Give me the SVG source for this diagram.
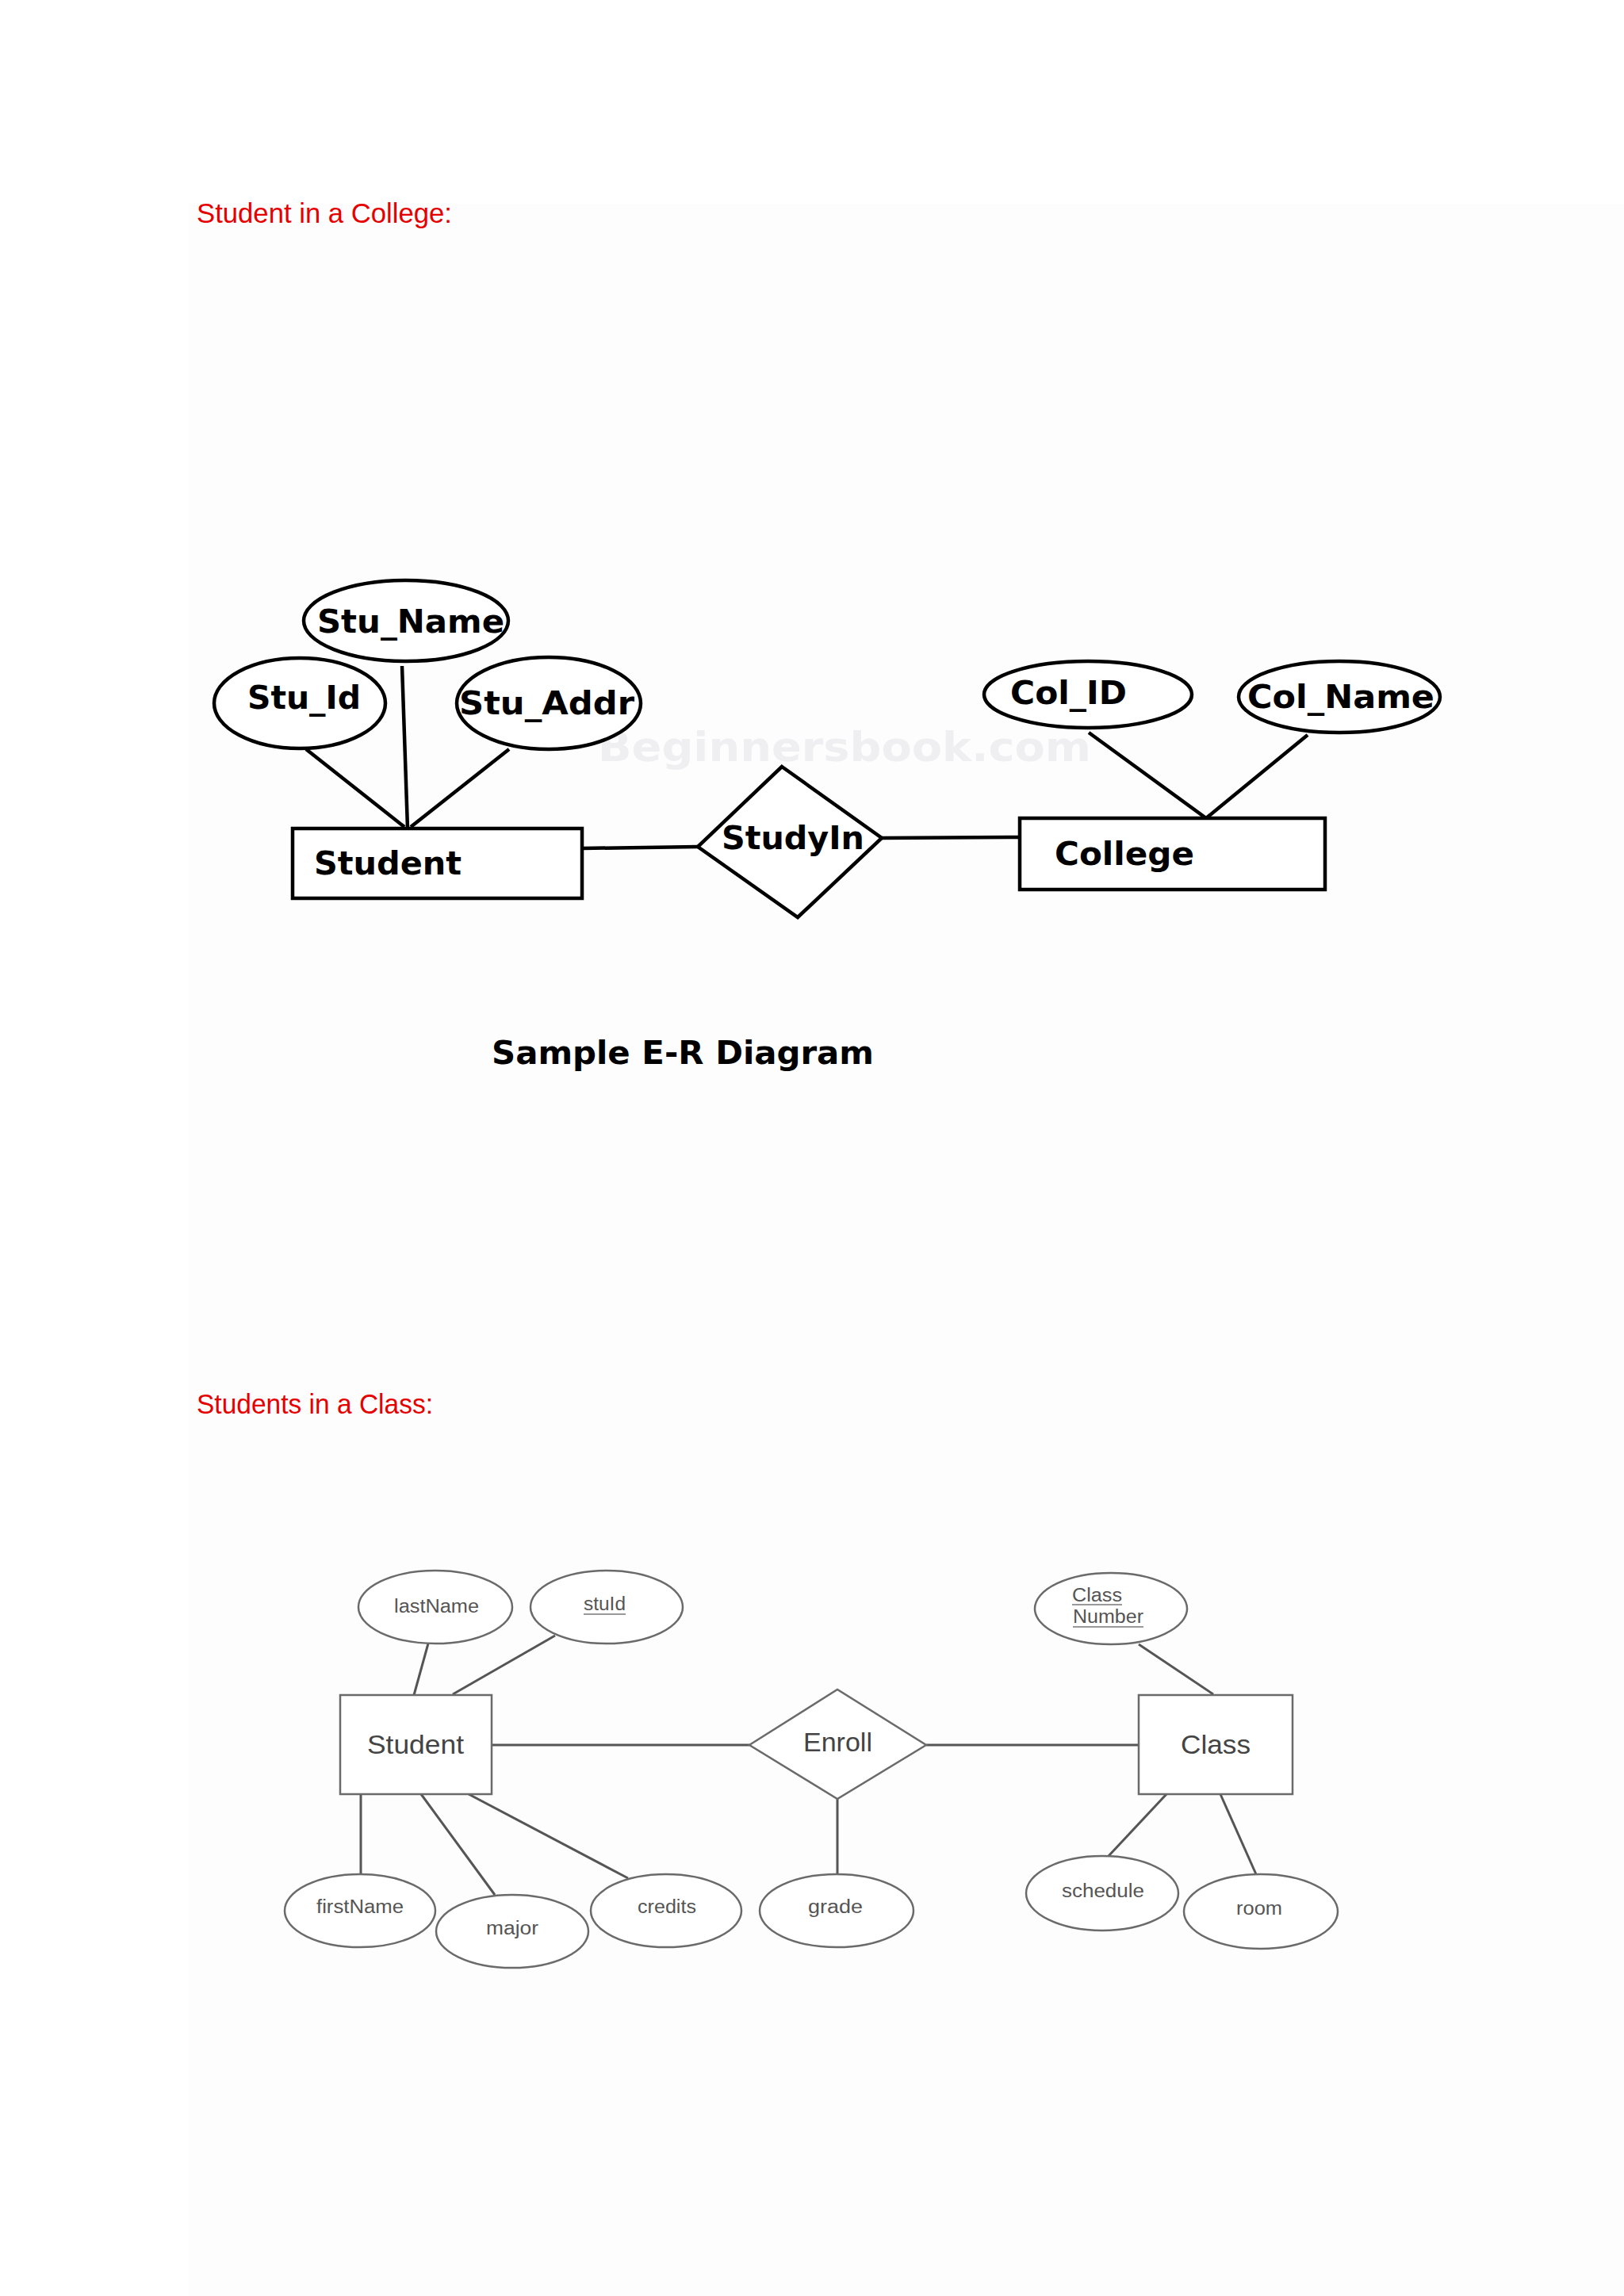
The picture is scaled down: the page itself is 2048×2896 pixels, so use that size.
<svg xmlns="http://www.w3.org/2000/svg" width="2048" height="2896" viewBox="0 0 2048 2896">
<style>
.t1{font-family:"DejaVu Sans","Liberation Sans",sans-serif;font-weight:bold;font-size:40px;fill:#000}
.s1{fill:#fff;stroke:#000;stroke-width:4.5}
.c1{stroke:#000;stroke-width:4.5;fill:none}
.h{font-family:"Liberation Sans",Arial,sans-serif;font-size:35px;fill:#e60000}
.s2{fill:#fff;stroke:#6a6a6a;stroke-width:2.5}
.c2{stroke:#555;stroke-width:3;fill:none}
.t2{font-family:"Liberation Sans",Arial,sans-serif;font-size:23px;fill:#555;text-anchor:start}
.t2b{font-family:"Liberation Sans",Arial,sans-serif;font-size:34px;fill:#444}
.wm{font-family:"DejaVu Sans",sans-serif;font-weight:bold;font-size:52px;fill:#efeff1}
</style>
<rect x="0" y="0" width="2048" height="2896" fill="#ffffff"/>
<rect x="238" y="257" width="1810" height="2639" fill="#fdfdfe"/>

<text class="h" x="248" y="281" textLength="322" lengthAdjust="spacingAndGlyphs">Student in a College:</text>

<text class="wm" x="754" y="960" textLength="622" lengthAdjust="spacingAndGlyphs">Beginnersbook.com</text>

<g id="connectors1">
<line class="c1" x1="386" y1="945" x2="510" y2="1043"/>
<line class="c1" x1="507" y1="840" x2="514" y2="1045"/>
<line class="c1" x1="642" y1="945" x2="518" y2="1043"/>
<line class="c1" x1="735" y1="1070" x2="880" y2="1068"/>
<line class="c1" x1="1112" y1="1057" x2="1286" y2="1056"/>
<line class="c1" x1="1373" y1="924" x2="1521" y2="1032"/>
<line class="c1" x1="1649" y1="927" x2="1521" y2="1032"/>
</g>

<g id="stu_name"><ellipse class="s1" cx="512" cy="783" rx="129" ry="51"/><text class="t1" x="400" y="798" textLength="236" lengthAdjust="spacingAndGlyphs">Stu_Name</text></g>
<g id="stu_id"><ellipse class="s1" cx="378" cy="887" rx="108" ry="57"/><text class="t1" x="312" y="894" textLength="143" lengthAdjust="spacingAndGlyphs">Stu_Id</text></g>
<g id="stu_addr"><ellipse class="s1" cx="692" cy="887" rx="116" ry="58"/><text class="t1" x="579" y="901" textLength="221" lengthAdjust="spacingAndGlyphs">Stu_Addr</text></g>
<g id="student1"><rect class="s1" x="369" y="1045" width="365" height="88"/><text class="t1" x="396" y="1103" textLength="186" lengthAdjust="spacingAndGlyphs">Student</text></g>
<g id="studyin"><polygon class="s1" points="986,967 1112,1057 1006,1157 880,1068"/><text class="t1" x="910" y="1071" textLength="180" lengthAdjust="spacingAndGlyphs">StudyIn</text></g>
<g id="col_id"><ellipse class="s1" cx="1372" cy="876" rx="131" ry="42"/><text class="t1" x="1274" y="888" textLength="147" lengthAdjust="spacingAndGlyphs">Col_ID</text></g>
<g id="col_name"><ellipse class="s1" cx="1689" cy="879" rx="127" ry="45"/><text class="t1" x="1573" y="893" textLength="236" lengthAdjust="spacingAndGlyphs">Col_Name</text></g>
<g id="college"><rect class="s1" x="1286" y="1032" width="385" height="90"/><text class="t1" x="1330" y="1091" textLength="176" lengthAdjust="spacingAndGlyphs">College</text></g>

<text class="t1" x="620" y="1342" textLength="482" lengthAdjust="spacingAndGlyphs">Sample E-R Diagram</text>

<text class="h" x="248" y="1783" textLength="298" lengthAdjust="spacingAndGlyphs">Students in a Class:</text>

<g id="connectors2">
<line class="c2" x1="540" y1="2073" x2="522" y2="2138"/>
<line class="c2" x1="700" y1="2063" x2="571" y2="2137"/>
<line class="c2" x1="620" y1="2201" x2="945" y2="2201"/>
<line class="c2" x1="1168" y1="2201" x2="1436" y2="2201"/>
<line class="c2" x1="1056" y1="2269" x2="1056" y2="2364"/>
<line class="c2" x1="455" y1="2263" x2="455" y2="2364"/>
<line class="c2" x1="531" y1="2263" x2="624" y2="2390"/>
<line class="c2" x1="591" y1="2263" x2="792" y2="2369"/>
<line class="c2" x1="1436" y1="2074" x2="1530" y2="2137"/>
<line class="c2" x1="1471" y1="2263" x2="1398" y2="2341"/>
<line class="c2" x1="1539" y1="2263" x2="1584" y2="2364"/>
</g>

<g id="lastName"><ellipse class="s2" cx="549" cy="2027" rx="97" ry="46"/><text class="t2" x="497" y="2034" textLength="107" lengthAdjust="spacingAndGlyphs">lastName</text></g>
<g id="stuId"><ellipse class="s2" cx="765" cy="2027" rx="96" ry="46"/><text class="t2" x="736" y="2031" textLength="53" lengthAdjust="spacingAndGlyphs">stuId</text><line x1="736" y1="2036" x2="789" y2="2036" stroke="#777" stroke-width="1.5"/></g>
<g id="student2"><rect class="s2" x="429" y="2138" width="191" height="125"/><text class="t2b" x="463" y="2212" textLength="122" lengthAdjust="spacingAndGlyphs">Student</text></g>
<g id="enroll"><polygon class="s2" points="945,2201 1056,2131 1168,2201 1056,2269"/><text class="t2b" x="1013" y="2209" textLength="87" lengthAdjust="spacingAndGlyphs">Enroll</text></g>
<g id="grade"><ellipse class="s2" cx="1055" cy="2410" rx="97" ry="46"/><text class="t2" x="1019" y="2413" textLength="69" lengthAdjust="spacingAndGlyphs">grade</text></g>
<g id="firstName"><ellipse class="s2" cx="454" cy="2410" rx="95" ry="46"/><text class="t2" x="399" y="2413" textLength="110" lengthAdjust="spacingAndGlyphs">firstName</text></g>
<g id="major"><ellipse class="s2" cx="646" cy="2436" rx="96" ry="46"/><text class="t2" x="613" y="2440" textLength="66" lengthAdjust="spacingAndGlyphs">major</text></g>
<g id="credits"><ellipse class="s2" cx="840" cy="2410" rx="95" ry="46"/><text class="t2" x="804" y="2413" textLength="74" lengthAdjust="spacingAndGlyphs">credits</text></g>
<g id="classNumber"><ellipse class="s2" cx="1401" cy="2029" rx="96" ry="45"/><text class="t2" x="1352" y="2020" textLength="63" lengthAdjust="spacingAndGlyphs">Class</text><line x1="1352" y1="2024" x2="1415" y2="2024" stroke="#777" stroke-width="1.5"/><text class="t2" x="1353" y="2047" textLength="89" lengthAdjust="spacingAndGlyphs">Number</text><line x1="1353" y1="2052" x2="1442" y2="2052" stroke="#777" stroke-width="1.5"/></g>
<g id="class"><rect class="s2" x="1436" y="2138" width="194" height="125"/><text class="t2b" x="1489" y="2212" textLength="88" lengthAdjust="spacingAndGlyphs">Class</text></g>
<g id="schedule"><ellipse class="s2" cx="1390" cy="2388" rx="96" ry="47"/><text class="t2" x="1339" y="2393" textLength="104" lengthAdjust="spacingAndGlyphs">schedule</text></g>
<g id="room"><ellipse class="s2" cx="1590" cy="2411" rx="97" ry="47"/><text class="t2" x="1559" y="2415" textLength="58" lengthAdjust="spacingAndGlyphs">room</text></g>
</svg>
